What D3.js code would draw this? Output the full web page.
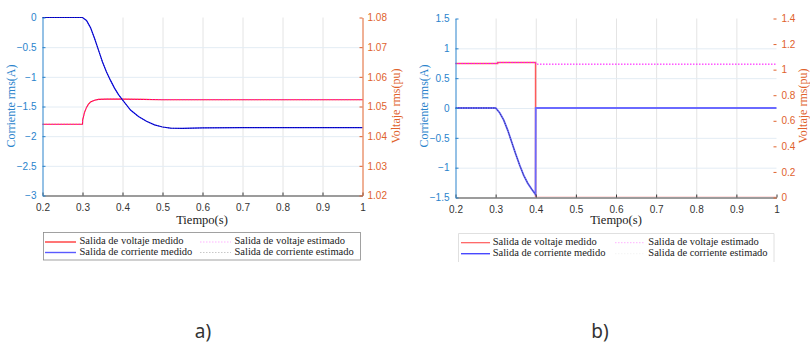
<!DOCTYPE html>
<html><head><meta charset="utf-8">
<script src="https://cdn.jsdelivr.net/npm/d3@7"></script>
<style>
body{margin:0;background:#fff;}
svg{display:block;}
</style></head>
<body><svg id="c" width="810" height="346"></svg>
<script>
// ---------- DATA ----------
const timeTicks = [0.2,0.3,0.4,0.5,0.6,0.7,0.8,0.9,1];
const leftTicksA = [0,-0.5,-1,-1.5,-2,-2.5,-3];
const rightTicksA = [1.02,1.03,1.04,1.05,1.06,1.07,1.08];
const leftTicksB = [1.5,1,0.5,0,-0.5,-1,-1.5];
const rightTicksB = [0,0.2,0.4,0.6,0.8,1,1.2,1.4];

// Panel a) current (A)
const tCurA = [0.2,0.3,0.31,0.32,0.33,0.34,0.35,0.36,0.37,0.38,0.39,0.40,0.42,0.44,0.46,0.48,0.50,0.52,0.55,0.6,0.7,0.8,0.9,1.0];
const curMeasA = [0,0,-0.05,-0.17,-0.35,-0.55,-0.75,-0.92,-1.06,-1.19,-1.30,-1.39,-1.56,-1.67,-1.75,-1.81,-1.845,-1.865,-1.87,-1.86,-1.855,-1.855,-1.855,-1.855];
const curEstA  = [0,0,-0.05,-0.17,-0.35,-0.55,-0.75,-0.92,-1.06,-1.19,-1.30,-1.39,-1.56,-1.67,-1.75,-1.81,-1.845,-1.865,-1.87,-1.86,-1.855,-1.855,-1.855,-1.855];
// Panel a) voltage (pu)
const tVolA = [0.2,0.3,0.3005,0.305,0.31,0.315,0.32,0.33,0.34,0.36,0.40,0.45,0.5,0.6,0.8,1.0];
const volMeasA = [1.044,1.044,1.0455,1.048,1.0497,1.0508,1.0515,1.0521,1.0524,1.0525,1.0525,1.0524,1.0523,1.0523,1.0523,1.0523];
const volEstA  = [1.044,1.044,1.0455,1.048,1.0497,1.0508,1.0515,1.0521,1.0524,1.0525,1.0525,1.0524,1.0523,1.0523,1.0523,1.0523];

// Panel b) current (A)
const tCurB = [0.2,0.3,0.31,0.32,0.33,0.34,0.35,0.36,0.37,0.38,0.39,0.3995,0.4,1.0];
const curMeasB = [0,0,-0.08,-0.2,-0.37,-0.57,-0.77,-0.96,-1.13,-1.26,-1.36,-1.45,0,0];
const tCurEstB = [0.2,0.3,0.31,0.32,0.33,0.34,0.35,0.36,0.37,0.38,0.39,0.3995];
const curEstB  = [0,0,-0.08,-0.2,-0.37,-0.57,-0.77,-0.96,-1.13,-1.26,-1.36,-1.45];
// Panel b) voltage (pu)
const tVolB = [0.2,0.305,0.305,0.3995,0.3995,1.0];
const volMeasB = [1.048,1.048,1.056,1.056,0,0];
const tVolEstB = [0.2,0.305,0.305,0.3995,0.4,1.0];
const volEstB  = [1.048,1.048,1.056,1.056,1.043,1.043];

const legendLabels = ["Salida de voltaje medido","Salida de corriente medido","Salida de voltaje estimado","Salida de corriente estimado"];

// ---------- DRAW ----------
const svg = d3.select("#c");
const BLUE_AX = "#2a83cc", ORANGE_AX = "#e0622c", GRID_V="#e4e4e4", GRID_H="#e3ecf4";
const sans = "'Liberation Sans', Arial, sans-serif";
const serif = "'Liberation Serif', 'Times New Roman', serif";
const defs = svg.append("defs");

function panel(cfg){
  const g = svg.append("g");
  const x = d3.scaleLinear().domain([0.2,1]).range([cfg.x0,cfg.x1]);
  const yL = d3.scaleLinear().domain(cfg.lDom).range([cfg.y1,cfg.y0]);
  const yR = d3.scaleLinear().domain(cfg.rDom).range([cfg.y1,cfg.y0]);

  defs.append("clipPath").attr("id","clip"+cfg.cap[0])
    .append("rect").attr("x",cfg.x0-2).attr("y",cfg.y0-3).attr("width",cfg.x1-cfg.x0+4).attr("height",cfg.y1-cfg.y0+3-0.8);

  // grid
  g.append("g").attr("transform",`translate(0,${cfg.y1})`)
    .call(d3.axisBottom(x).tickValues(timeTicks.slice(1,-1)).tickSize(-(cfg.y1-cfg.y0)).tickFormat(""))
    .call(s=>{s.select(".domain").remove(); s.selectAll("line").attr("stroke",GRID_V);});
  g.append("g").attr("transform",`translate(${cfg.x0},0)`)
    .call(d3.axisLeft(yL).tickValues(cfg.lTicks.filter(v=>v!==cfg.lDom[0]&&v!==cfg.lDom[1])).tickSize(-(cfg.x1-cfg.x0)).tickFormat(""))
    .call(s=>{s.select(".domain").remove(); s.selectAll("line").attr("stroke",GRID_H);});

  // lines
  const lineL = (ts,vs)=>d3.line().x((d,i)=>x(ts[i])).y(d=>yL(d))(vs);
  const lineR = (ts,vs)=>d3.line().x((d,i)=>x(ts[i])).y(d=>yR(d))(vs);
  const plot = g.append("g").attr("clip-path",`url(#clip${cfg.cap[0]})`);
  plot.append("path").attr("d",lineR(cfg.tV,cfg.vM)).attr("fill","none").attr("stroke",cfg.redCol).attr("stroke-width",cfg.redW);
  plot.append("path").attr("d",lineR(cfg.tVE,cfg.vE)).attr("fill","none").attr("stroke","#ff00ff").attr("stroke-width",1).attr("stroke-dasharray","1.5,1.5").attr("opacity",cfg.estVOp);
  plot.append("path").attr("d",lineL(cfg.tC,cfg.cM)).attr("fill","none").attr("stroke",cfg.blueCol).attr("stroke-width",cfg.blueW);
  plot.append("path").attr("d",lineL(cfg.tCE,cfg.cE)).attr("fill","none").attr("stroke","#000033").attr("stroke-width",0.9).attr("stroke-dasharray","1.5,1").attr("opacity",0.55);

  // x axis
  const xa = g.append("g").attr("transform",`translate(0,${cfg.y1})`)
    .call(d3.axisBottom(x).tickValues(timeTicks).tickSizeInner(-3).tickSizeOuter(0).tickPadding(8).tickFormat(d3.format("")));
  xa.select(".domain").attr("stroke","#3a3a3a").attr("stroke-width",1.2);
  xa.selectAll("line").attr("stroke","#3a3a3a");
  xa.selectAll("text").attr("fill","#333").style("font",`10px ${sans}`);

  // left axis
  const la = g.append("g").attr("transform",`translate(${cfg.x0},0)`)
    .call(d3.axisLeft(yL).tickValues(cfg.lTicks).tickSizeInner(-3).tickSizeOuter(0).tickPadding(6).tickFormat(d3.format("")));
  la.select(".domain").attr("stroke",BLUE_AX);
  la.selectAll("line").attr("stroke",BLUE_AX);
  la.selectAll("text").attr("fill",BLUE_AX).style("font",`10px ${sans}`);

  // right axis
  const ra = g.append("g").attr("transform",`translate(${cfg.x1},0)`)
    .call(d3.axisRight(yR).tickValues(cfg.rTicks).tickSizeInner(-3).tickSizeOuter(0).tickPadding(5).tickFormat(cfg.rFmt));
  if(cfg.rDomain) ra.select(".domain").attr("stroke",ORANGE_AX); else ra.select(".domain").remove();
  ra.selectAll("line").attr("stroke",ORANGE_AX);
  ra.selectAll("text").attr("fill",ORANGE_AX).style("font",`10px ${sans}`);

  // axis titles
  g.append("text").attr("transform",`translate(${cfg.lLabX},${cfg.labY}) rotate(-90)`).attr("text-anchor","middle").attr("dominant-baseline","middle")
    .attr("fill",BLUE_AX).style("font",`12px ${serif}`).text("Corriente rms(A)");
  g.append("text").attr("transform",`translate(${cfg.rLabX},${cfg.labY}) rotate(-90)`).attr("text-anchor","middle").attr("dominant-baseline","middle")
    .attr("fill",ORANGE_AX).style("font",`12px ${serif}`).text("Voltaje rms(pu)");
  g.append("text").attr("x",(cfg.x0+cfg.x1)/2+cfg.tShift).attr("y",224).attr("text-anchor","middle")
    .attr("fill","#222").style("font",`12.5px ${serif}`).text("Tiempo(s)");

  // legend
  const L = cfg.leg;
  const lg = g.append("g");
  if(L.full){
    lg.append("rect").attr("x",L.x0).attr("y",L.y0).attr("width",L.x1-L.x0).attr("height",L.y1-L.y0).attr("fill","#fff").attr("stroke","#8a8a8a").attr("stroke-width",0.8);
  } else {
    lg.append("path").attr("d",`M${L.x0},${L.y1}V${L.y0}H${L.x1}V${L.y1}`).attr("fill","none").attr("stroke","#d8d8d8").attr("stroke-width",0.8);
  }
  const rows=[L.r1,L.r2];
  const samples=[
    {c:cfg.redCol,d:null,col:0,row:0,w:1.2},
    {c:cfg.legBlue,d:null,col:0,row:1,w:1.4},
    {c:"#ffb3ff",d:"1.5,1.5",col:1,row:0,w:1},
    {c:L.grayEst,d:"1.5,1.5",col:1,row:1,w:1}
  ];
  samples.forEach((s,i)=>{
    const cx = s.col===0?L.c1:L.c2;
    lg.append("line").attr("x1",cx[0]).attr("x2",cx[1]).attr("y1",rows[s.row]).attr("y2",rows[s.row])
      .attr("stroke",s.c).attr("stroke-width",s.w).attr("stroke-dasharray",s.d);
    lg.append("text").attr("x",cx[2]).attr("y",rows[s.row]).attr("dominant-baseline","middle")
      .attr("fill","#222").style("font",`10.5px ${serif}`).text(legendLabels[i]);
  });

  svg.append("text").attr("x",cfg.capX).attr("y",338).attr("text-anchor","middle").attr("fill","#333")
    .style("font",`19px 'Noto Sans', sans-serif`).text(cfg.cap);
}

panel({x0:42.5,x1:362.5,y0:17.5,y1:195.5,lDom:[-3,0],rDom:[1.02,1.08],lTicks:leftTicksA,rTicks:rightTicksA,
  rFmt:d3.format(".2f"),rDomain:true,
  tC:tCurA,cM:curMeasA,tCE:tCurA,cE:curEstA,tV:tVolA,vM:volMeasA,tVE:tVolA,vE:volEstA,
  redCol:"#ff1a1a",redW:1.1,blueCol:"#1010ff",blueW:1.2,legBlue:"#5a5aff",estVOp:0.7,
  lLabX:12,rLabX:397,labY:106,tShift:-0.5,
  leg:{full:true,x0:43.5,x1:360.5,y0:232.5,y1:260,r1:242,r2:252.5,c1:[45,76,79.5],c2:[200,231,234.5],grayEst:"#c8c8c8"},
  capX:203,cap:"a)"});

panel({x0:455.5,x1:776.5,y0:18.5,y1:197.5,lDom:[-1.5,1.5],rDom:[0,1.4],lTicks:leftTicksB,rTicks:rightTicksB,
  rFmt:d3.format(""),rDomain:false,
  tC:tCurB,cM:curMeasB,tCE:tCurEstB,cE:curEstB,tV:tVolB,vM:volMeasB,tVE:tVolEstB,vE:volEstB,
  redCol:"#ff5a5a",redW:1.5,blueCol:"#6a6aff",blueW:1.8,legBlue:"#4848ff",estVOp:1,
  lLabX:425,rLabX:804,labY:106,tShift:0,
  leg:{full:false,x0:458.5,x1:774,y0:233.5,y1:262,r1:242.7,r2:253.7,c1:[461,490,492.7],c2:[615,645,648.3],grayEst:"#f4f4f4"},
  capX:600,cap:"b)"});
</script>
</body></html>
